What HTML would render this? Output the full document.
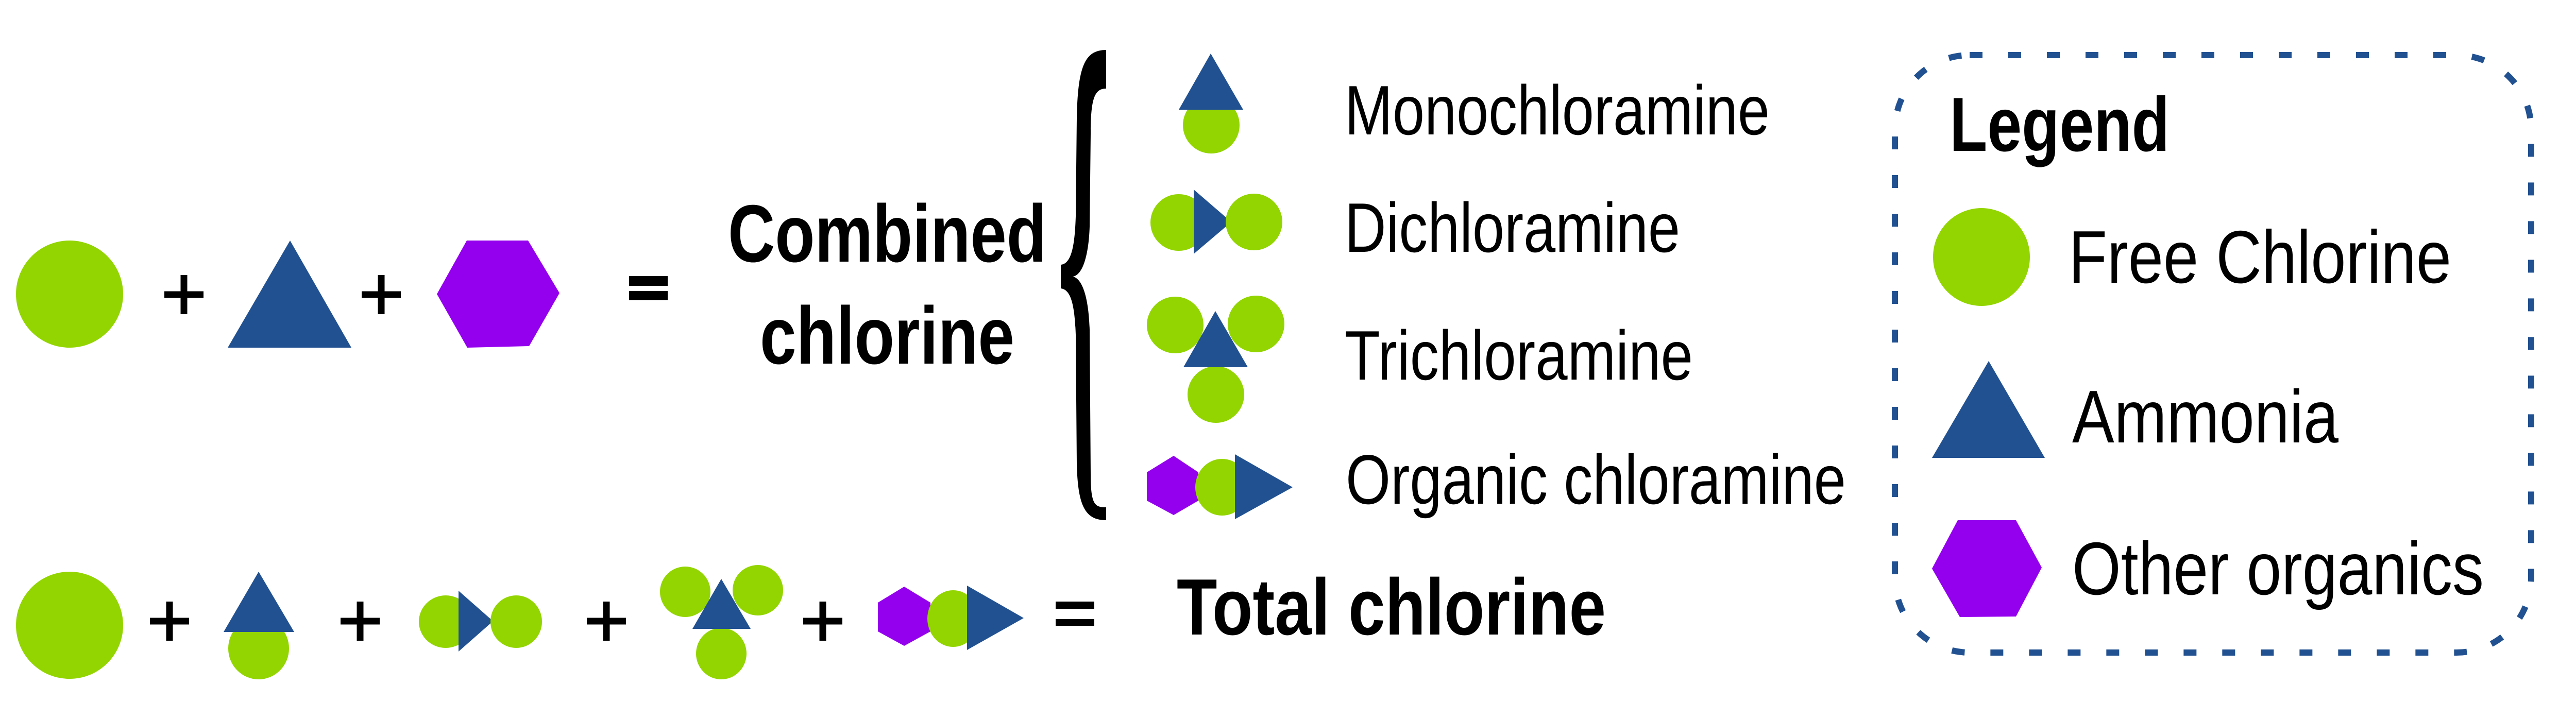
<!DOCTYPE html>
<html><head><meta charset="utf-8"><style>
html,body{margin:0;padding:0;background:#fff;}
svg{display:block;}
text{font-family:"Liberation Sans",Arial,sans-serif;fill:#000;}
.b{font-weight:bold;}
</style></head><body>
<svg width="5009" height="1363" viewBox="0 0 5009 1363" xmlns="http://www.w3.org/2000/svg">
<defs>
<g id="plus"><rect x="-38" y="-6.5" width="76" height="13" fill="#000"/><rect x="-6.5" y="-38" width="13" height="76" fill="#000"/></g>
</defs>
<!-- Row 1 -->
<circle cx="135" cy="571" r="104" fill="#93d500"/>
<use href="#plus" x="357" y="572"/>
<polygon points="442,675 563,467 682,675" fill="#215191"/>
<use href="#plus" x="740" y="572"/>
<polygon points="906,467 1025,467 1086,569 1027,672 907,675 848,571" fill="#9400ee"/>
<rect x="1221" y="536" width="75" height="19" fill="#000"/>
<rect x="1221" y="565" width="75" height="18" fill="#000"/>
<text class="b" x="1413" y="508" font-size="158" textLength="618" lengthAdjust="spacingAndGlyphs">Combined</text>
<text class="b" x="1475" y="706" font-size="158" textLength="494" lengthAdjust="spacingAndGlyphs">chlorine</text>
<!-- brace -->
<path d="M2147,97 L2147,172 C2125,172 2117,190 2117,260 L2115,440 C2113,500 2100,535 2082,537 C2100,540 2113,575 2115,640 L2117,920 C2117,980 2125,985 2147,985 L2147,1010 C2105,1010 2092,980 2090,900 L2088,650 C2086,590 2078,562 2059,560 L2059,514 C2078,512 2086,484 2088,420 L2090,230 C2092,130 2105,97 2147,97 Z" fill="#000"/>
<!-- mono -->
<circle cx="2351" cy="243" r="55" fill="#93d500"/>
<polygon points="2288,213 2350,104 2413,213" fill="#215191"/>
<!-- di -->
<circle cx="2288" cy="432" r="55" fill="#93d500"/>
<polygon points="2317,368 2317,493 2390,431" fill="#215191"/>
<circle cx="2434" cy="431" r="55" fill="#93d500"/>
<!-- tri -->
<circle cx="2281" cy="631" r="55" fill="#93d500"/>
<circle cx="2438" cy="629" r="55" fill="#93d500"/>
<circle cx="2360" cy="766" r="55" fill="#93d500"/>
<polygon points="2297,713 2359,604 2422,713" fill="#215191"/>
<!-- organic -->
<polygon points="2278,885 2326,917 2326,972 2278,1000 2226,972 2226,917" fill="#9400ee"/>
<ellipse cx="2372" cy="946" rx="52" ry="55" fill="#93d500"/>
<polygon points="2397,882 2397,1008 2509,946" fill="#215191"/>
<text x="2610" y="261" font-size="136" textLength="825" lengthAdjust="spacingAndGlyphs">Monochloramine</text>
<text x="2610" y="489" font-size="136" textLength="651" lengthAdjust="spacingAndGlyphs">Dichloramine</text>
<text x="2610" y="737" font-size="136" textLength="676" lengthAdjust="spacingAndGlyphs">Trichloramine</text>
<text x="2612" y="978" font-size="136" textLength="971" lengthAdjust="spacingAndGlyphs">Organic chloramine</text>
<!-- Row 2 -->
<circle cx="135" cy="1214" r="104" fill="#93d500"/>
<use href="#plus" x="329" y="1206"/>
<ellipse cx="502" cy="1259" rx="59" ry="60" fill="#93d500"/>
<polygon points="434,1227 502,1110 571,1227" fill="#215191"/>
<use href="#plus" x="699" y="1206"/>
<ellipse cx="865" cy="1207" rx="52" ry="51" fill="#93d500"/>
<polygon points="890,1147 890,1265 957,1206" fill="#215191"/>
<ellipse cx="1002" cy="1207" rx="50" ry="51" fill="#93d500"/>
<use href="#plus" x="1177" y="1206"/>
<ellipse cx="1330" cy="1149" rx="49" ry="49" fill="#93d500"/>
<ellipse cx="1471" cy="1146" rx="49" ry="49" fill="#93d500"/>
<ellipse cx="1400" cy="1269" rx="49" ry="50" fill="#93d500"/>
<polygon points="1344,1221 1400,1124 1457,1221" fill="#215191"/>
<use href="#plus" x="1597" y="1206"/>
<polygon points="1755,1139 1806,1170 1806,1226 1755,1254 1704,1226 1704,1170" fill="#9400ee"/>
<ellipse cx="1850" cy="1201" rx="50" ry="55" fill="#93d500"/>
<polygon points="1877,1137 1877,1262 1987,1200" fill="#215191"/>
<rect x="2049" y="1168" width="75" height="14" fill="#000"/>
<rect x="2049" y="1202" width="75" height="13" fill="#000"/>
<text class="b" x="2284" y="1232" font-size="155" textLength="833" lengthAdjust="spacingAndGlyphs">Total chlorine</text>
<!-- Legend -->
<rect x="3678" y="107" width="1235" height="1160" rx="145" ry="145" fill="none" stroke="#215191" stroke-width="12" stroke-dasharray="25 50"/>
<text class="b" x="3784" y="293" font-size="149" textLength="427" lengthAdjust="spacingAndGlyphs">Legend</text>
<ellipse cx="3846" cy="499" rx="94" ry="95" fill="#93d500"/>
<text x="4015" y="549" font-size="145" textLength="743" lengthAdjust="spacingAndGlyphs">Free Chlorine</text>
<polygon points="3750,889 3860,701 3969,889" fill="#215191"/>
<text x="4022" y="859" font-size="145" textLength="517" lengthAdjust="spacingAndGlyphs">Ammonia</text>
<polygon points="3800,1010 3913,1010 3963,1102 3913,1197 3804,1198 3750,1104" fill="#9400ee"/>
<text x="4022" y="1154" font-size="145" textLength="799" lengthAdjust="spacingAndGlyphs">Other organics</text>
</svg>
</body></html>
